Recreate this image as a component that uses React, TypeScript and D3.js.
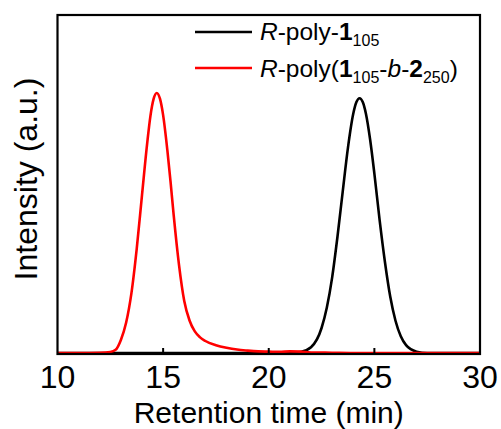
import React from "react";
import * as d3 from "d3";

const xTicks = [10, 15, 20, 25, 30];
const innerTicks = [15, 20, 25];

const blackT = [10, 20, 21, 21.5, 22, 22.5, 22.75, 23, 23.25, 23.5, 23.75, 24, 24.15, 24.3, 24.45, 24.6, 24.8, 25, 25.25, 25.5, 25.75, 26, 26.25, 26.5, 27, 27.5, 30];
const blackI = [0, 0, 0.001, 0.004, 0.022, 0.096, 0.175, 0.29, 0.445, 0.62, 0.79, 0.92, 0.965, 0.98, 0.965, 0.92, 0.82, 0.69, 0.51, 0.35, 0.217, 0.124, 0.064, 0.03, 0.005, 0, 0];

const redT = [10, 11, 12, 12.5, 12.75, 13, 13.25, 13.5, 13.75, 14, 14.25, 14.4, 14.55, 14.7, 14.85, 15, 15.2, 15.35, 15.5, 15.75, 16, 16.25, 16.5, 16.75, 17, 17.5, 18, 18.5, 19, 19.5, 20, 20.5, 21, 21.5, 22, 23, 24, 30];
const redI = [0, 0, 0.001, 0.004, 0.012, 0.05, 0.117, 0.23, 0.4, 0.607, 0.81, 0.912, 0.977, 1.0, 0.978, 0.915, 0.78, 0.66, 0.53, 0.34, 0.2, 0.125, 0.083, 0.06, 0.046, 0.03, 0.02, 0.013, 0.009, 0.006, 0.005, 0.004, 0.006, 0.005, 0.002, 0.001, 0, 0];

const W = 501, H = 429;
const left = 57.5, right = 480, top = 15, bottom = 354;
const font = "'Liberation Sans', Arial, Helvetica, sans-serif";

export default function App() {
  const x = d3.scaleLinear().domain([10, 30]).range([left, right]);
  const y = d3.scaleLinear().domain([-0.004, 1.3]).range([bottom, top]);
  const line = d3
    .line<[number, number]>()
    .x((d) => x(d[0]))
    .y((d) => y(d[1]))
    .curve(d3.curveMonotoneX);
  const blackPts = blackT.map((t, i) => [t, blackI[i]] as [number, number]);
  const redPts = redT.map((t, i) => [t, redI[i]] as [number, number]);

  return (
    <svg width={W} height={H} style={{ position: "absolute", left: 0, top: 0, background: "#fff" }} fontFamily={font}>
      <defs>
        <clipPath id="plot">
          <rect x={left} y={top} width={right - left} height={bottom - top} />
        </clipPath>
      </defs>
      <g clipPath="url(#plot)">
        <path d={line(blackPts) || ""} fill="none" stroke="#000" strokeWidth={2.6} />
        <path d={line(redPts) || ""} fill="none" stroke="#ff0000" strokeWidth={2.6} />
      </g>
      {innerTicks.map((t) => (
        <line key={t} x1={x(t)} x2={x(t)} y1={bottom} y2={bottom - 6} stroke="#000" strokeWidth={2} />
      ))}
      <rect x={left} y={top} width={right - left} height={bottom - top} fill="none" stroke="#000" strokeWidth={2.2} />
      {xTicks.map((t) => (
        <text key={t} x={x(t)} y={388} fontSize={32} textAnchor="middle" fill="#000">
          {t}
        </text>
      ))}
      <text x={(left + right) / 2} y={423} fontSize={30} textAnchor="middle" fill="#000">
        Retention time (min)
      </text>
      <text transform={`translate(36.5,179) rotate(-90)`} fontSize={32} textAnchor="middle" fill="#000">
        Intensity (a.u.)
      </text>
      <line x1={195} x2={252} y1={32} y2={32} stroke="#000" strokeWidth={2.6} />
      <line x1={195} x2={252} y1={68} y2={68} stroke="#ff0000" strokeWidth={2.6} />
      <text x={260} y={40} fontSize={24.5} fill="#000">
        <tspan fontStyle="italic">R</tspan>
        <tspan>-poly-</tspan>
        <tspan fontWeight="bold">1</tspan>
        <tspan fontSize={16} dy={6}>105</tspan>
      </text>
      <text x={260} y={77} fontSize={24.5} fill="#000">
        <tspan fontStyle="italic">R</tspan>
        <tspan>-poly(</tspan>
        <tspan fontWeight="bold">1</tspan>
        <tspan fontSize={16} dy={6}>105</tspan>
        <tspan dy={-6}>-</tspan>
        <tspan fontStyle="italic">b</tspan>
        <tspan>-</tspan>
        <tspan fontWeight="bold">2</tspan>
        <tspan fontSize={16} dy={6}>250</tspan>
        <tspan dy={-6}>)</tspan>
      </text>
    </svg>
  );
}
